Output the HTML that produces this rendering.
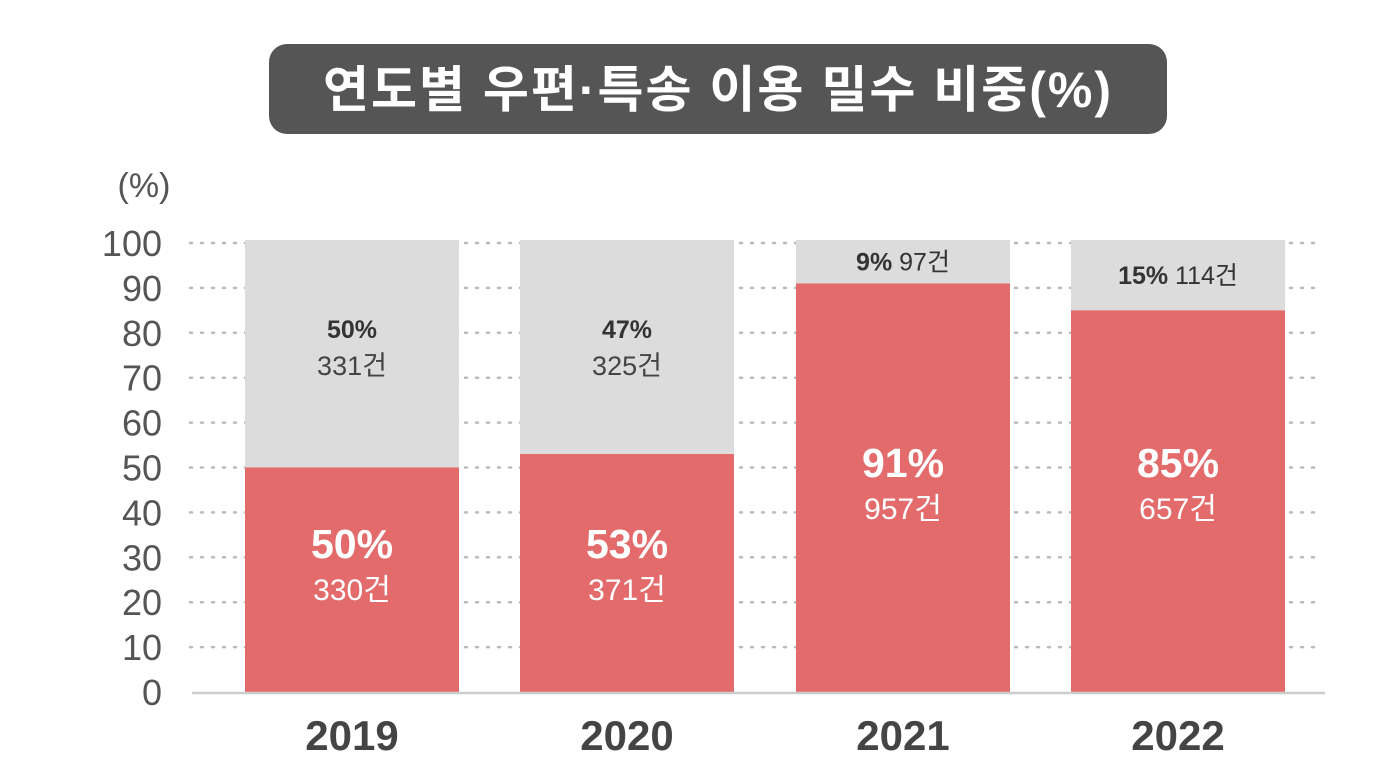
<!DOCTYPE html>
<html><head><meta charset="utf-8"><style>
body{margin:0;background:#fff;width:1400px;height:779px;overflow:hidden}
svg{font-family:"Liberation Sans","Noto Sans CJK KR",sans-serif}
</style></head><body>
<svg id="c" width="1400" height="779">
<rect x="269" y="44" width="898" height="90" rx="18" fill="#555555"/>
<text x="718" y="107" text-anchor="middle" font-size="50" font-weight="bold" letter-spacing="2" fill="#fff">연도별 우편·특송 이용 밀수 비중(%)</text>
<text x="144" y="197" text-anchor="middle" font-size="34" fill="#555">(%)</text>
</svg>
<script>
const years=["2019","2020","2021","2022"];
const redPct=[50,53,91,85];
const redCount=["330건","371건","957건","657건"];
const grayPct=[50,47,9,15];
const grayCount=["331건","325건","97건","114건"];
const ticks=[0,10,20,30,40,50,60,70,80,90,100];
const svg=document.getElementById('c');const NS="http://www.w3.org/2000/svg";
const y0=692,k=4.49;const yS=v=>y0-v*k;
const barX=[245,520,796,1071],bw=214;
function mk(t,a,txt){const e=document.createElementNS(NS,t);for(const n in a)e.setAttribute(n,a[n]);if(txt!=null)e.textContent=txt;svg.appendChild(e);return e;}
ticks.forEach(t=>{
 if(t>0){const g=mk('line',{x1:190,x2:1315,y1:yS(t),y2:yS(t),stroke:'#bbb','stroke-width':2.5,'stroke-dasharray':'2 9','stroke-linecap':'round'});
 
 }
 const l=mk('text',{x:162,y:yS(t)+13,'text-anchor':'end','font-size':36,fill:'#555'},t);
 
 
});
years.forEach((yr,i)=>{
 const x=barX[i],top=yS(100)-3,rt=yS(redPct[i]);
 const g=mk('rect',{x:x,y:top,width:bw,height:rt-top,fill:'#dcdcdc'});
 
 
 const r=mk('rect',{x:x,y:rt,width:bw,height:y0-rt,fill:'#e36b6b'});
 
 
 const cx=x+bw/2;
 let t;
 if(grayPct[i]<20){
  t=mk('text',{x:cx,y:(top+rt)/2+9,'text-anchor':'middle','font-size':25,fill:'#333'});
  t.innerHTML='<tspan font-weight="bold">'+grayPct[i]+'%</tspan> '+grayCount[i];
  
  
 }else{
  t=mk('text',{x:cx,y:338,'text-anchor':'middle','font-size':25,'font-weight':'bold',fill:'#333'},grayPct[i]+'%');
  
  
  t=mk('text',{x:cx,y:375,'text-anchor':'middle','font-size':27,fill:'#444'},grayCount[i]);
  
  
 }
 const m=redPct[i]>70?462:543;
 t=mk('text',{x:cx,y:m+15,'text-anchor':'middle','font-size':41,'font-weight':'bold',fill:'#fff'},redPct[i]+'%');
 
 
 t=mk('text',{x:cx,y:m+57,'text-anchor':'middle','font-size':30,fill:'#fff'},redCount[i]);
 
 
 t=mk('text',{x:cx,y:750,'text-anchor':'middle','font-size':42,'font-weight':'bold',fill:'#444'},yr);
 
 
});
const b=mk('line',{x1:192,x2:1325,y1:y0+1,y2:y0+1,stroke:'#ccc','stroke-width':2.5});


</script>
</body></html>
